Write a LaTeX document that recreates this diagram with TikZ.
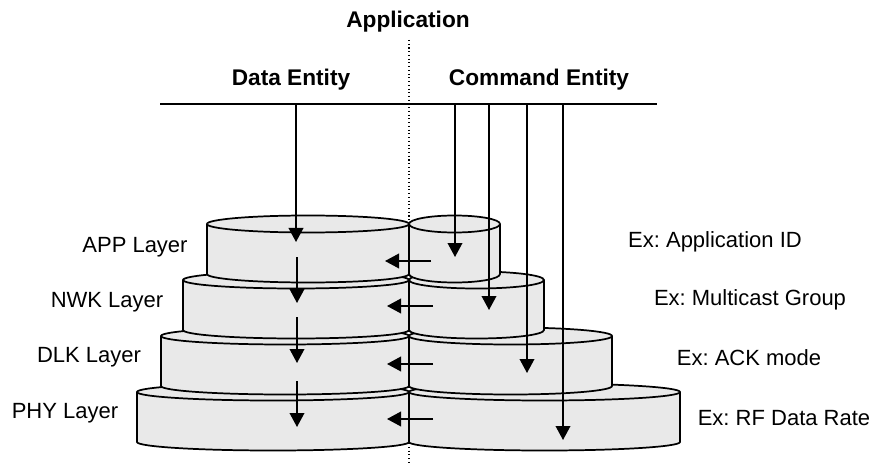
\documentclass[tikz,border=0pt]{standalone}
\usepackage{fontspec}
\setmainfont{Liberation Sans}
\usepackage{tikz}
\usetikzlibrary{
	positioning,
	arrows.meta
}
\definecolor{layerfill}{RGB}{233,233,233}
\frenchspacing

% one half of a stacked layer: left x, right x, top y, height
\newcommand{\drum}[4]{%
	\pgfmathsetmacro\rx{(#2-#1)/2}
	\filldraw[layer]
		(#1,-#3) -- (#1,-#3-#4)
		arc[start angle=180,end angle=360,x radius=\rx,y radius=8.5]
		-- (#2,-#3)
		arc[start angle=0,end angle=180,x radius=\rx,y radius=8.5]
		-- cycle;
	\draw[layer] (#1,-#3)
		arc[start angle=180,end angle=360,x radius=\rx,y radius=8.5];
}

\begin{document}
\begin{tikzpicture}[
		x=0.75pt, y=0.75pt,
		every node/.style={font=\fontsize{16.5}{19}\selectfont, inner sep=0pt},
		title/.style={font=\fontsize{17}{20}\selectfont\bfseries},
		layer/.style={draw=black, fill=layerfill, line width=1.3pt},
		flow/.style={line width=1.2pt, -{Triangle[length=10.5pt,width=11pt]}}
	]
	\useasboundingbox (0,0) rectangle (877,-463);

	% split between data and command side
	\draw[dotted, line width=0.8pt] (409,-40) -- (409,-463);

	% layers, from the bottom one up
	\drum{137}{409}{392}{50} \drum{409}{680}{392}{50}
	\drum{161}{409}{336}{50} \drum{409}{612}{336}{50}
	\drum{183}{409}{280}{50} \drum{409}{544}{280}{50}
	\drum{207}{409}{224}{50} \drum{409}{500}{224}{50}

	\draw
		node[title] (appl) at (408,-22) {Application}
		node[title] (data) at (291,-80) {Data Entity}
		node[title] (cmd)  at (539,-80) {Command Entity}

		node (applayer) at (135,-247) {APP Layer}
		node (nwklayer) at (107,-302) {NWK Layer}
		node (dlklayer) at (89,-357)  {DLK Layer}
		node (phylayer) at (65,-413)  {PHY Layer}

		node (exapp) at (715,-242) {Ex: Application ID}
		node (exnwk) at (750,-300) {Ex: Multicast Group}
		node (exdlk) at (749,-358) {Ex: ACK mode}
		node (exphy) at (784,-418) {Ex: RF Data Rate}
	;

	% entity bus
	\coordinate (bus west) at (160,-104);
	\coordinate (bus east) at (657,-104);
	\draw[line width=1.2pt] (bus west) -- (bus east);

	% arrows from the bus down into the layers
	\foreach \name/\x/\y in {dat/296/242, cmdA/455/257, cmdB/489/310, cmdC/527/373, cmdD/563/440} {
		\coordinate (\name top) at (\x,-104);
		\coordinate (\name tip) at (\x,-\y);
		\draw[flow] (\name top) -- (\name tip);
	}

	% data passed down layer by layer
	\foreach \i/\a/\b in {1/257/303, 2/317/363, 3/381/427} {
		\coordinate (down\i a) at (297,-\a);
		\coordinate (down\i b) at (297,-\b);
		\draw[flow] (down\i a) -- (down\i b);
	}

	% command side feeding data side
	\foreach \i/\a/\b/\y in {1/431/385/261, 2/433/387/306, 3/433/387/364, 4/433/387/419} {
		\coordinate (feed\i a) at (\a,-\y);
		\coordinate (feed\i b) at (\b,-\y);
		\draw[flow] (feed\i a) -- (feed\i b);
	}
\end{tikzpicture}
\end{document}
